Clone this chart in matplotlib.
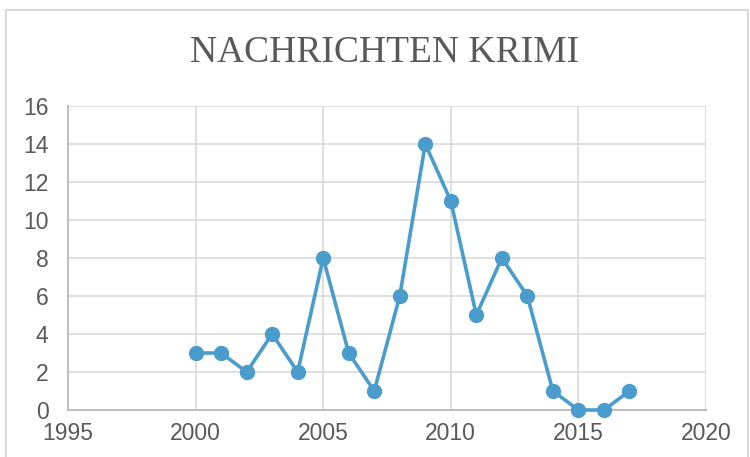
import numpy as np
import matplotlib.pyplot as plt
from matplotlib.patches import Rectangle

# Daten
years = [2000, 2001, 2002, 2003, 2004, 2005, 2006, 2007, 2008,
         2009, 2010, 2011, 2012, 2013, 2014, 2015, 2016, 2017]
counts = [3, 3, 2, 4, 2, 8, 3, 1, 6, 14, 11, 5, 8, 6, 1, 0, 0, 1]
x_ticks = [1995, 2000, 2005, 2010, 2015, 2020]
y_ticks = [0, 2, 4, 6, 8, 10, 12, 14, 16]
title = 'NACHRICHTEN KRIMI'

W, H = 750, 457
fig = plt.figure(figsize=(W / 100, H / 100), dpi=100)

# Rahmen um das Diagramm
fig.patches.append(Rectangle((6 / W, -0.05), (748 - 6) / W, 1.05 - 10 / H,
                             transform=fig.transFigure, fill=False,
                             edgecolor='#d9d9d9', linewidth=1.5))

ax = fig.add_axes([68 / W, (H - 410) / H, (706 - 68) / W, (410 - 106) / H])
ax.plot(years, counts, color='#4a9ccc', linewidth=2.6, marker='o',
        markersize=10, zorder=3, clip_on=False)

ax.set_xlim(1995, 2020)
ax.set_ylim(0, 16)
ax.set_xticks(x_ticks)
ax.set_yticks(y_ticks)
ax.grid(True, color='#d9d9d9', linewidth=1.2)
ax.set_axisbelow(True)
for s in ['top', 'right']:
    ax.spines[s].set_visible(False)
for s in ['left', 'bottom']:
    ax.spines[s].set_color('#bfbfbf')
    ax.spines[s].set_linewidth(1.5)
ax.tick_params(length=0, labelsize=16.5, labelcolor='#595959')
ax.tick_params(axis='x', pad=9)
ax.tick_params(axis='y', pad=14)
for lab in ax.get_xticklabels() + ax.get_yticklabels():
    lab.set_family(['Liberation Sans', 'DejaVu Sans'])

fig.text(385 / W, 1 - 53 / H, title, ha='center', va='center',
         fontsize=27, color='#595959', family=['Liberation Serif', 'DejaVu Serif'])

fig.savefig('out.png', dpi=100)
